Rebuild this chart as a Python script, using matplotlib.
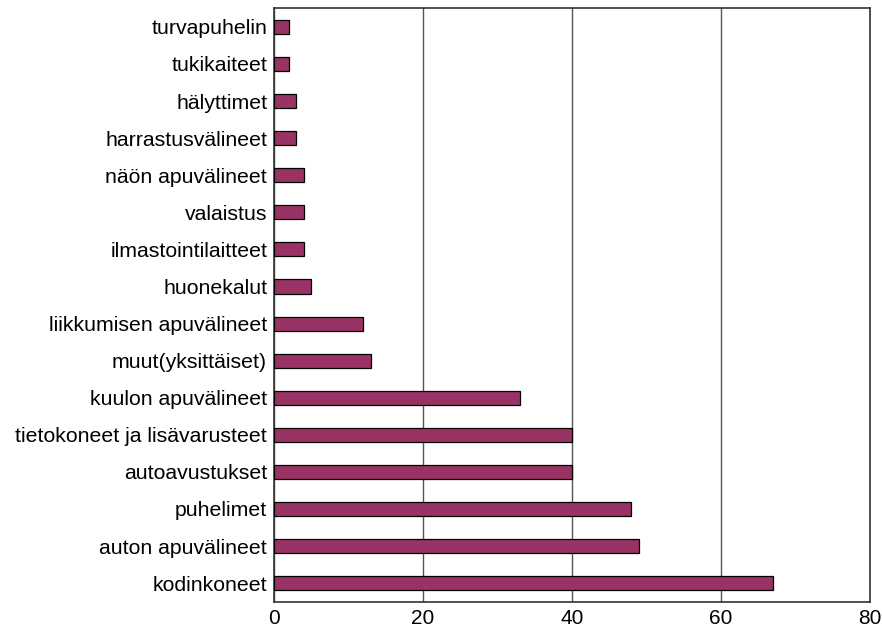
import matplotlib
matplotlib.use("Agg")
import matplotlib.pyplot as plt

# apuvälineryhmät, alimmasta ylimpään
categories = [
    "kodinkoneet", "auton apuvälineet", "puhelimet", "autoavustukset",
    "tietokoneet ja lisävarusteet", "kuulon apuvälineet", "muut(yksittäiset)",
    "liikkumisen apuvälineet", "huonekalut", "ilmastointilaitteet", "valaistus",
    "näön apuvälineet", "harrastusvälineet", "hälyttimet", "tukikaiteet",
    "turvapuhelin",
]
values = [67, 49, 48, 40, 40, 33, 13, 12, 5, 4, 4, 4, 3, 3, 2, 2]
xticks = [0, 20, 40, 60, 80]

plt.rcParams['font.family'] = ['Liberation Sans', 'DejaVu Sans']

fig = plt.figure(figsize=(8.82, 6.3), dpi=100)
ax = fig.add_axes([0.3103, 0.0449, 0.9864 - 0.3103, 0.9868 - 0.0449])

ax.barh(range(len(categories)), values, height=0.38, color="#993366",
        edgecolor="black", linewidth=0.9, zorder=3)

ax.set_xlim(0, 80)
ax.set_ylim(-0.5, len(categories) - 0.5)
ax.set_xticks(xticks)
ax.set_yticks(range(len(categories)))
ax.set_yticklabels(categories)
ax.tick_params(axis="y", length=0, pad=4.7, labelsize=15.3)
ax.tick_params(axis="x", length=0, pad=5, labelsize=15)
ax.xaxis.grid(True, color="#555555", linewidth=1.0, zorder=0)
for s in ax.spines.values():
    s.set_color("#333333")
    s.set_linewidth(1.2)

fig.savefig("out.png", dpi=100)
